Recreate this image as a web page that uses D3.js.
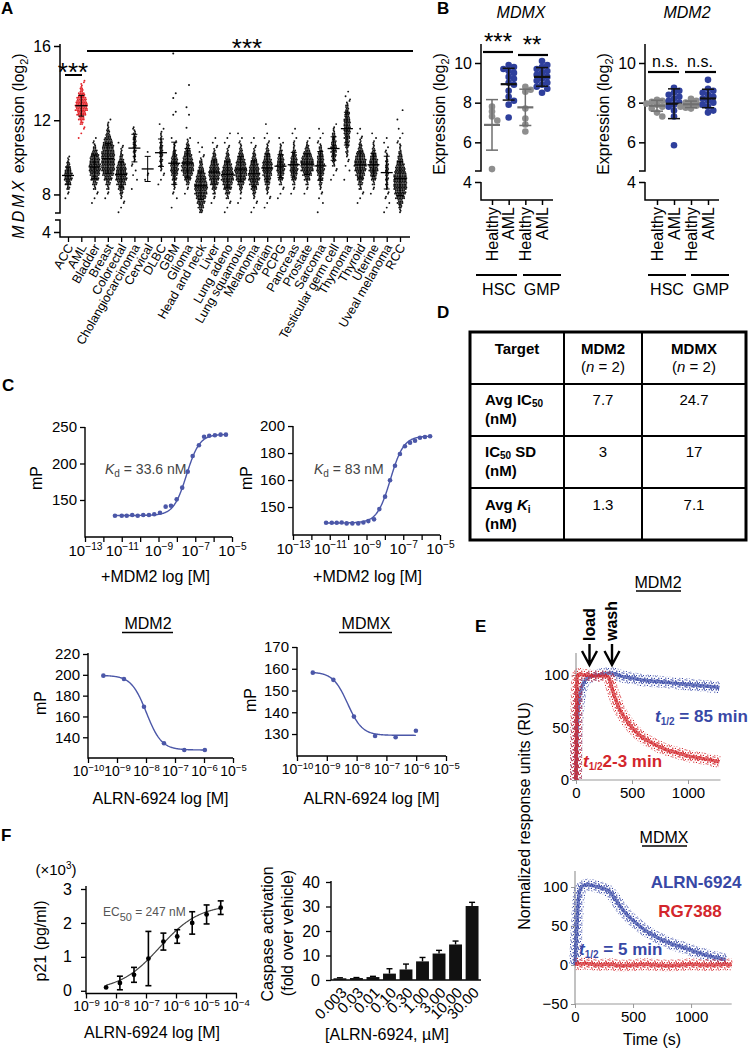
<!DOCTYPE html>
<html><head><meta charset="utf-8">
<script src="https://cdn.jsdelivr.net/npm/d3@7"></script>
<style>body{margin:0;background:#fff}svg{display:block}</style>
</head><body><script>
// ================= DATA =================
// Panel A: MDMX expression per tumour type (dot density per 0.25 log2 bin)
const catsA = ["ACC","AML","Bladder","Breast","Colorectal","Cholangiocarcinoma","Cervical","DLBC","GBM","Glioma","Head and neck","Liver","Lung adeno","Lung squamous","Melanoma","Ovarian","PCPG","Pancreas","Prostate","Sarcoma","Testicular germ cell","Thymoma","Thyroid","Uterine","Uveal melanoma","RCC"];
const binStartA = [7.75,11.0,7.5,7.75,7.0,8.25,8.75,8.5,7.25,8.0,7.0,7.5,7.0,7.5,7.0,7.25,7.75,8.0,8.0,7.0,8.75,8.75,7.5,8.0,7.0,7.0];
const binCountsA = [
 [1,2,5,10,14,14,10,6,3,1],
 [1,1,2,5,10,16,22,22,18,12,6,3,2],
 [1,1,2,4,8,14,18,20,20,18,14,8,4,2,1],
 [1,2,4,8,14,20,24,24,24,24,22,20,16,10,6,3,2,1],
 [1,1,2,3,6,10,16,20,20,18,14,8,5,3,2,1],
 [1,0,1,1,1,2,3,4,5,6,6,5,4,2],
 [1,2,0,0,0,0,1],
 [1,1,2,3,4,5,6,6,5,4,3,2,1,1],
 [1,0,1,2,3,5,8,12,14,14,12,8,5,3,2,1],
 [1,2,6,12,18,22,22,18,14,10,6,3,1],
 [6,10,14,18,22,24,22,18,14,10,6,4,2,1,1,1],
 [1,2,4,8,14,18,20,18,14,10,6,3,2,1,1],
 [1,1,2,4,8,14,18,22,22,18,14,10,6,3,2,1,1,1],
 [1,1,3,6,12,18,22,22,18,14,10,6,3,2,1,1],
 [1,1,2,3,6,10,16,20,20,18,14,10,6,3,2,1,1],
 [1,1,2,3,5,8,12,16,18,18,14,10,6,3,2,1,1,0,1],
 [1,1,2,4,8,12,14,14,12,8,5,3,1,1],
 [1,2,4,8,12,14,14,12,8,5,3,2,1,1,1],
 [1,2,4,10,16,22,24,22,16,10,5,2,1],
 [1,0,1,1,2,3,5,8,12,14,14,12,10,7,4,2,1,1,1],
 [1,1,2,4,6,8,10,10,8,6,4,2,1],
 [1,0,1,1,2,3,4,6,8,10,12,12,12,10,8,6,4,2,1,1],
 [1,1,2,4,8,12,16,20,22,20,16,10,6,3,2,1,1],
 [1,2,4,8,12,16,16,14,10,6,3,2,1,1],
 [1,1,1,2,2,3,4,5,6,6,5,4,3,2,1,1,1],
 [3,6,10,16,20,24,24,24,22,18,14,10,7,4,3,2,1,1,1,0,1,0,1]
];
const extrasA = [[],[],[],[],[],[],[],[],[12.3,12.45,13.2,13.45,15.6],[11.6,12.3,12.7,13.9],[],[],[],[],[],[],[],[],[],[],[],[],[],[],[],[]];
const ticksA = [4,8,12,16];

// Panel B
const groupsB = ["HSC Healthy","HSC AML","GMP Healthy","GMP AML"];
const groupLabelsB = ["Healthy","AML","Healthy","AML"];
const mdmxB = [[7.8,7.55,7.3,7.1,4.65],[9.9,9.8,9.7,9.6,9.5,9.3,9.2,9.0,8.9,8.6,8.3,8.1,7.9,7.25],[8.8,8.65,8.55,7.7,7.2,6.9,6.55],[10.1,9.9,9.8,9.7,9.6,9.5,9.4,9.3,9.2,9.1,9.0,8.9,8.8,8.7,8.5]];
const mdm2B = [[8.15,8.1,8.05,8.0,7.95,7.9,7.8,7.7,7.5,7.3],[8.75,8.6,8.5,8.4,8.3,8.2,8.1,8.0,7.9,7.8,7.6,7.3,5.85],[8.2,8.1,8.0,7.95,7.9,7.85,7.8,7.75,7.7],[9.15,8.7,8.6,8.5,8.4,8.3,8.2,8.1,8.0,7.9,7.8,7.6,7.5]];
const ticksB = [4,6,8,10];
const sigMdmxB = ["***","**"];
const sigMdm2B = ["n.s.","n.s."];

// Panel C
const kdMdm2LogX = [-11.37,-11.0,-10.73,-10.43,-10.13,-9.83,-9.52,-9.23,-8.92,-8.61,-8.32,-8.01,-7.71,-7.41,-7.14,-6.8,-6.52,-6.24,-5.93,-5.62,-5.33];
const kdMdm2MP = [128.5,128.5,128.5,129.5,128.5,129.5,129.5,130.4,132.6,140.9,142.2,150.9,166.9,188.8,210.3,225,236.7,238,238.6,239.5,239.5];
const kdMdm2Fit = [128.8,240,-7.474,1.23];
const kdMdmxLogX = [-11.2,-10.89,-10.62,-10.35,-10.08,-9.77,-9.45,-9.17,-8.9,-8.59,-8.3,-7.99,-7.72,-7.45,-7.18,-6.91,-6.63,-6.36,-6.09,-5.82,-5.54];
const kdMdmxMP = [128.4,128.4,128.4,128.6,127.9,127.9,127.9,128.6,129.6,130.9,138.5,147.7,159.8,170.6,179.3,185,187.7,189.1,191.3,191.9,192.4];
const kdMdmxFit = [128.2,192.6,-7.7,1.2];
const kdMdmxTicks = [140,160,180,200];
const kdMdmxTickLabels = ["150","160","180","200"];
const compMdm2LogX = [-9.47,-8.76,-8.07,-7.38,-6.68,-5.97];
const compMdm2MP = [199.2,196,169.4,134.2,127.8,127.8];
const compMdm2Fit = [127.8,199.5,-7.986,1.665];
const compMdmxLogX = [-9.47,-8.78,-8.09,-7.38,-6.69,-6.01];
const compMdmxMP = [158.2,154.9,138,129.1,128.5,131.5];
const compMdmxFit = [129.4,158.5,-8.3,1.77];

// Panel D
const tableHeads = ["Target","MDM2","MDMX"];
const tableRowLabels = ["Avg IC50","IC50 SD","Avg Ki"];
const tableMdm2 = ["7.7","3","1.3"];
const tableMdmx = ["24.7","17","7.1"];

// Panel E
const eMdm2AlrnT = [0,5,15,30,50,75,100,150,200,250,300,350,400,500,600,700,800,900,1000,1100,1200,1280];
const eMdm2AlrnV = [0,30,60,78,88,94,97,99,100,101,102,101,99,97,95,94,93,92,91,90,89,88];
const eMdm2RgT = [0,4,8,15,30,60,100,150,200,250,290,310,330,360,400,450,500,600,700,800,900,1000,1100,1200,1280];
const eMdm2RgV = [0,50,92,100,101,100,100,99,99,99,98,92,84,75,65,57,50,40,34,29,26,23,21,19,17];
const eMdmxAlrnT = [0,10,20,30,45,60,100,150,200,250,290,320,350,400,450,500,600,700,800,900,1000,1100,1200,1300];
const eMdmxAlrnV = [0,30,60,85,97,101,103,102,100,98,95,90,84,73,64,57,45,36,29,24,19,14,10,7];
const eMdmxRgT = [0,100,200,300,400,500,600,700,800,900,1000,1100,1200,1300,1350];
const eMdmxRgV = [1,2,0,1,-1,0,1,0,-1,0,1,0,0,1,0];

// Panel F
const p21LogX = [-8.33,-7.87,-7.4,-6.92,-6.42,-5.96,-5.46,-4.98,-4.51];
const p21Val = [0.1,0.23,0.47,0.95,1.45,1.6,2.0,2.25,2.45];
const p21Err = [0,0.2,0.22,0.8,0.25,0.2,0.33,0.28,0.2];
const p21Fit = [0,2.55,-6.55,0.65];
const caspLabels = ["0.003","0.03","0.01","0.10","0.30","1.00","3.00","10.00","30.00"];
const caspVal = [0.7,0.8,1.2,2.6,4.3,7.6,10.8,14.5,30.2];
const caspErr = [0.2,0.2,0.3,2.0,2.2,1.6,1.3,1.4,1.5];

// ================= DRAWING =================
const FONT = '"Liberation Sans", Arial, sans-serif';
const RED = "#e2262c", BLUE = "#2e3f9c", GREY = "#8e8e8e", CBLUE = "#4b57a8";
const EBLUE = "#3848a6", ERED = "#d3262c";
const fmtD = d3.format("d");
const svg = d3.select("body").append("svg").attr("width",754).attr("height",1050).attr("font-family",FONT);
svg.append("rect").attr("width",754).attr("height",1050).attr("fill","#fff");
const defs = svg.append("defs");

function T(g,x,y,s,o={}){const t=g.append("text").attr("x",x).attr("y",y).text(s);for(const k in o)t.attr(k,o[k]);return t;}
function L(g,x1,y1,x2,y2,c="#000",w=1.5){return g.append("line").attr("x1",x1).attr("y1",y1).attr("x2",x2).attr("y2",y2).attr("stroke",c).attr("stroke-width",w);}
function P(g,d,c="#000",w=1.5){return g.append("path").attr("d",d).attr("fill","none").attr("stroke",c).attr("stroke-width",w);}

// panel letters
[["A",1,14],["B",437,14],["C",2,391],["D",437,318],["E",475,632],["F",1,841]].forEach(([l,x,y])=>T(svg,x,y,l,{"font-size":17,"font-weight":"bold"}));

// ---------- Panel A ----------
(function(){
  const g = svg.append("g");
  const y = d3.scaleLinear().domain([4,4.9,7.0,16]).range([232,220,213,46]);
  const x = d3.scalePoint().domain(catsA).range([68,400]);
  const ay = g.append("g").attr("transform","translate(60,0)").call(d3.axisLeft(y).tickValues(ticksA).tickSize(6).tickFormat(fmtD));
  ay.select(".domain").remove();
  ay.selectAll("line").attr("stroke-width",1.5);
  ay.selectAll("text").attr("font-size",16).attr("font-family",FONT);
  P(g,"M60,44V213H55M55,220H60V237H410");
  const ax = g.append("g").attr("transform","translate(0,237)").call(d3.axisBottom(x).tickSize(5));
  ax.select(".domain").remove(); ax.selectAll("text").remove();
  ax.selectAll("line").attr("stroke-width",1.3);
  catsA.forEach(c=>T(g,0,0,c,{"font-size":12.5,"text-anchor":"end",dy:"0.35em",transform:`translate(${x(c)+2},245) rotate(-60)`}));
  const yl = T(g,0,0,"",{"font-size":16,"text-anchor":"middle",transform:"translate(24,146) rotate(-90)"});
  yl.append("tspan").attr("font-style","italic").attr("letter-spacing",3).text("MDMX");
  yl.append("tspan").text(" expression (log");
  yl.append("tspan").attr("font-size",11).attr("dy",4).text("2");
  yl.append("tspan").attr("dy",-4).text(")");
  catsA.forEach((c,i)=>{
    const cx = x(c), col = c==="AML"?RED:"#111";
    const vals = [];
    binCountsA[i].forEach((n,j)=>{
      const lo = binStartA[i]+0.25*j;
      const yb = y(lo), yt = y(lo+0.25);
      const rows = 3;
      const jit = n<=2 ? ((j*7)%5-2)*1.3 : 0;
      for(let k=0;k<n;k++){
        const r = k%rows, ci = Math.floor(k/rows);
        const nIn = Math.floor(n/rows)+(r<n%rows?1:0);
        const dx = (ci-(nIn-1)/2)*1.65 + (r===1?0.6:0) + jit;
        const dy = yb+(r+0.5)*(yt-yb)/rows;
        g.append("circle").attr("cx",cx+dx).attr("cy",dy).attr("r",0.95).attr("fill",col);
        vals.push(lo+0.125);
      }
    });
    extrasA[i].forEach((v,k)=>{g.append("circle").attr("cx",cx+(k%2?1.5:-1)).attr("cy",y(v)).attr("r",1).attr("fill",col);vals.push(v);});
    const m = d3.mean(vals), sd = d3.deviation(vals)||0;
    L(g,cx,y(m-sd),cx,y(m+sd),"#000",1);
    L(g,cx-3,y(m-sd),cx+3,y(m-sd),"#000",1);
    L(g,cx-3,y(m+sd),cx+3,y(m+sd),"#000",1);
    L(g,cx-6,y(m),cx+6,y(m),"#000",1.3);
  });
  T(g,73,81,"***",{"font-size":26,"text-anchor":"middle"});
  L(g,65,75,82,75,"#000",2);
  T(g,247,57,"***",{"font-size":26,"text-anchor":"middle"});
  L(g,87,51,413,51,"#000",2);
})();

// ---------- Panel B ----------
function swarm(vals, yS, cx, r){
  const placed=[], out=[];
  const order = vals.map((v,i)=>i).sort((a,b)=>vals[b]-vals[a]);
  for(const i of order){
    const py = yS(vals[i]); let px = cx;
    for(let k=0;k<25;k++){
      const off = k===0?0:(k%2?1:-1)*Math.ceil(k/2)*r*0.8;
      px = cx+off;
      if(placed.every(p=>Math.hypot(p[0]-px,p[1]-py)>=r*1.5)) break;
    }
    placed.push([px,py]); out.push({x:px,y:py});
  }
  return out;
}
function drawB(axisX, xRange, data, title, titleX, sigs, sigCfg, grp){
  const g = svg.append("g");
  const y = d3.scaleLinear().domain([4,10]).range([182,63]);
  const x = d3.scalePoint().domain(groupsB).range(xRange);
  const ay = g.append("g").attr("transform",`translate(${axisX},0)`).call(d3.axisLeft(y).tickValues(ticksB).tickSize(6).tickFormat(fmtD));
  ay.select(".domain").remove();
  ay.selectAll("line").attr("stroke-width",1.5);
  ay.selectAll("text").attr("font-size",16).attr("font-family",FONT);
  P(g,`M${axisX},44V171H${axisX-6}M${axisX},182V200H${xRange[1]+11}`);
  const ax = g.append("g").attr("transform","translate(0,200)").call(d3.axisBottom(x).tickSize(5));
  ax.select(".domain").remove(); ax.selectAll("text").remove(); ax.selectAll("line").attr("stroke-width",1.5);
  groupsB.forEach((gr,i)=>T(g,0,0,groupLabelsB[i],{"font-size":16,"text-anchor":"end",dy:"0.35em",transform:`translate(${x(gr)},207) rotate(-90)`}));
  T(g,titleX,18,title,{"font-size":16,"font-style":"italic","text-anchor":"middle"});
  const yl = T(g,0,0,"Expression (log",{"font-size":16,"text-anchor":"middle",transform:`translate(${axisX-36},114) rotate(-90)`});
  yl.append("tspan").attr("font-size",11).attr("dy",4).text("2");
  yl.append("tspan").attr("dy",-4).text(")");
  data.forEach((vals,i)=>{
    const healthy = i%2===0, col = healthy?GREY:BLUE, cx = x(groupsB[i]);
    swarm(vals,y,cx,3.3).forEach(p=>g.append("circle").attr("cx",p.x).attr("cy",p.y).attr("r",3.3).attr("fill",col));
    const m = d3.mean(vals), sd = d3.deviation(vals);
    const bc = healthy?"#6f6f6f":"#111";
    L(g,cx,y(m-sd),cx,y(m+sd),bc,1.5);
    L(g,cx-6,y(m-sd),cx+6,y(m-sd),bc,1.5);
    L(g,cx-6,y(m+sd),cx+6,y(m+sd),bc,1.5);
    L(g,cx-8,y(m),cx+8,y(m),bc,2.2);
  });
  sigCfg.forEach((s,i)=>{
    T(g,s.tx,s.ty,sigs[i],{"font-size":s.fs,"text-anchor":"middle"});
    L(g,s.x1,s.ly,s.x2,s.ly,"#000",2.2);
  });
  grp.forEach(gq=>{L(g,gq[0],275,gq[1],275,"#000",2);T(g,gq[2],295,gq[3],{"font-size":16,"text-anchor":"middle"});});
}
drawB(481,[492,542],mdmxB,"MDMX",521,sigMdmxB,
  [{tx:498,ty:50,fs:24,x1:483,x2:513,ly:52},{tx:532,ty:53,fs:24,x1:518,x2:548,ly:55}],
  [[476,517,499,"HSC"],[523,561,542,"GMP"]]);
drawB(645,[657,708],mdm2B,"MDM2",687,sigMdm2B,
  [{tx:665,ty:67,fs:16,x1:648,x2:679,ly:72},{tx:700,ty:67,fs:16,x1:685,x2:716,ly:72}],
  [[648,686,667,"HSC"],[691,729,711,"GMP"]]);

// ---------- Panel C ----------
function fourPL(p, xv, dec){const [b,t,m,h]=p;return b+(t-b)/(1+Math.pow(10,(dec?(xv-m):(m-xv))*h));}
function doseChart(c){
  const g = svg.append("g");
  const x = d3.scaleLinear().domain(c.xDom).range(c.xRange);
  const y = d3.scaleLinear().domain(c.yDom).range(c.yRange);
  const [x0,x1] = c.xRange, yb = c.yRange[0];
  const ay = g.append("g").attr("transform",`translate(${x0},0)`).call(d3.axisLeft(y).tickValues(c.yTicks).tickSize(5).tickFormat((d,i)=>c.yLabels[i]));
  ay.select(".domain").remove(); ay.selectAll("line").attr("stroke-width",1.3);
  ay.selectAll("text").attr("font-size",15).attr("font-family",FONT);
  const ax = g.append("g").attr("transform",`translate(0,${yb})`).call(d3.axisBottom(x).tickValues(d3.range(c.xDom[0],c.xDom[1]+1)).tickSize(5));
  ax.select(".domain").remove(); ax.selectAll("line").attr("stroke-width",1.3);
  ax.selectAll("text").each(function(d){
    const t = d3.select(this); t.text(null).attr("font-size",c.tfs).attr("font-family",FONT);
    if((d-c.xDom[0])%c.every!==0) return;
    t.append("tspan").text("10");
    t.append("tspan").attr("font-size",c.tfs*0.68).attr("dy","-0.55em").text("−"+Math.abs(d));
  });
  P(g,`M${x0},${c.yTop}V${yb}H${x1}`,"#000",1.4);
  const xs = d3.range(c.logX[0],c.logX[c.logX.length-1]+0.001,0.02);
  g.append("path").datum(xs).attr("d",d3.line().x(d=>x(d)).y(d=>y(fourPL(c.fit,d,c.dec)))).attr("fill","none").attr("stroke",CBLUE).attr("stroke-width",1.4);
  c.logX.forEach((lx,i)=>g.append("circle").attr("cx",x(lx)).attr("cy",y(c.mp[i])).attr("r",2.3).attr("fill",CBLUE));
  T(g,c.ylx,c.yly,"mP",{"font-size":16,"text-anchor":"middle",transform:`rotate(-90,${c.ylx},${c.yly})`,dy:"0.35em"});
  T(g,(x0+x1)/2+c.xlOff,c.xly,c.xLabel,{"font-size":16,"text-anchor":"middle"});
  if(c.kd){
    const t = T(g,c.kd[0],c.kd[1],"",{"font-size":14,fill:"#444"});
    t.append("tspan").attr("font-style","italic").text("K");
    t.append("tspan").attr("font-size",10).attr("dy",3).text("d");
    t.append("tspan").attr("dy",-3).text(" = "+c.kd[2]);
  }
}
doseChart({xDom:[-13,-5],xRange:[85,232],yDom:[99.3,250],yRange:[537,427],yTop:427,yTicks:[150,200,250],yLabels:["150","200","250"],
  tfs:15,every:2,logX:kdMdm2LogX,mp:kdMdm2MP,fit:kdMdm2Fit,dec:false,ylx:36,yly:478,xLabel:"+MDM2 log [M]",xly:582,xlOff:-3,kd:[105,474,"33.6 nM"]});
doseChart({xDom:[-13,-5],xRange:[293,440],yDom:[119.3,205],yRange:[535,419.3],yTop:426,yTicks:kdMdmxTicks,yLabels:kdMdmxTickLabels,
  tfs:15,every:2,logX:kdMdmxLogX,mp:kdMdmxMP,fit:kdMdmxFit,dec:false,ylx:246,yly:478,xLabel:"+MDM2 log [M]",xly:582,xlOff:1,kd:[314,474,"83 nM"]});
doseChart({xDom:[-10,-5],xRange:[88,233],yDom:[120.1,220],yRange:[758,654],yTop:653,yTicks:[140,160,180,200,220],yLabels:["140","160","180","200","220"],
  tfs:14,every:1,logX:compMdm2LogX,mp:compMdm2MP,fit:compMdm2Fit,dec:true,ylx:40,yly:703,xLabel:"ALRN-6924 log [M]",xly:804,xlOff:0});
doseChart({xDom:[-10,-5],xRange:[297,446],yDom:[119.9,170],yRange:[756,647],yTop:647,yTicks:[130,140,150,160,170],yLabels:["130","140","150","160","170"],
  tfs:14,every:1,logX:compMdmxLogX,mp:compMdmxMP,fit:compMdmxFit,dec:true,ylx:250,yly:700,xLabel:"ALRN-6924 log [M]",xly:804,xlOff:0});
[["MDM2",148,122,173],["MDMX",366,339,392]].forEach(([s,cx,a,b])=>{T(svg,cx,629,s,{"font-size":16,"text-anchor":"middle"});L(svg,a,632.5,b,632.5,"#000",1.6);});

// ---------- Panel D ----------
(function(){
  const g = svg.append("g");
  g.append("rect").attr("x",470).attr("y",332).attr("width",276).attr("height",208).attr("fill","none").attr("stroke","#000").attr("stroke-width",3);
  [564,642].forEach(xx=>L(g,xx,332,xx,540,"#000",2));
  [384,436,488].forEach(yy=>L(g,470,yy,746,yy,"#000",2));
  const cx = [517,603,694];
  T(g,cx[0],354,tableHeads[0],{"font-size":15,"font-weight":"bold","text-anchor":"middle"});
  [1,2].forEach(i=>{
    T(g,cx[i],354,tableHeads[i],{"font-size":15,"font-weight":"bold","text-anchor":"middle"});
    const t = T(g,cx[i],372,"(",{"font-size":15,"text-anchor":"middle"});
    t.append("tspan").attr("font-style","italic").text("n");
    t.append("tspan").text(" = 2)");
  });
  const base = [405,457,510];
  tableRowLabels.forEach((lab,i)=>{
    const t = T(g,485,base[i],"",{"font-size":15,"font-weight":"bold"});
    if(lab==="Avg IC50"){t.append("tspan").text("Avg IC");t.append("tspan").attr("font-size",10).attr("dy",2).text("50");}
    else if(lab==="IC50 SD"){t.append("tspan").text("IC");t.append("tspan").attr("font-size",10).attr("dy",2).text("50");t.append("tspan").attr("dy",-2).text(" SD");}
    else {t.append("tspan").text("Avg ");t.append("tspan").attr("font-style","italic").text("K");t.append("tspan").attr("font-size",10).attr("dy",3).text("i");}
    T(g,485,base[i]+19,"(nM)",{"font-size":15,"font-weight":"bold"});
    T(g,cx[1],base[i],tableMdm2[i],{"font-size":15,"text-anchor":"middle"});
    T(g,cx[2],base[i],tableMdmx[i],{"font-size":15,"text-anchor":"middle"});
  });
})();

// ---------- Panel E ----------
function speckle(id,color){
  const p = defs.append("pattern").attr("id",id).attr("width",7).attr("height",7).attr("patternUnits","userSpaceOnUse");
  [[0.3,0.6],[3.1,1.4],[5.6,0.2],[1.7,3.3],[4.5,4.0],[0.2,5.6],[2.9,5.9],[6.0,3.0],[3.8,2.6]].forEach(([a,b])=>p.append("rect").attr("x",a).attr("y",b).attr("width",1.1).attr("height",1.1).attr("fill",color));
}
speckle("spB",EBLUE); speckle("spR",ERED);
function band(g,x,y,ts,vs,color,pid){
  const line = d3.line().x((d,i)=>x(ts[i])).y(d=>y(d)).curve(d3.curveMonotoneX);
  g.append("path").datum(vs).attr("d",line).attr("fill","none").attr("stroke",`url(#${pid})`).attr("stroke-width",12).attr("stroke-linejoin","round");
  g.append("path").datum(vs).attr("d",line).attr("fill","none").attr("stroke",color).attr("stroke-width",3.5).attr("stroke-opacity",0.7).attr("stroke-linejoin","round");
  g.append("path").datum(vs).attr("d",line).attr("fill","none").attr("stroke",`url(#${pid})`).attr("stroke-width",7);
}
function eAxes(g,x,y,yTicks,xTicks,x0,x1,yTop,yBot){
  const ay = g.append("g").attr("transform",`translate(${x0},0)`).call(d3.axisLeft(y).tickValues(yTicks).tickSize(4).tickFormat(d=>d<0?"−"+(-d):String(d)));
  ay.select(".domain").remove(); ay.selectAll("line").attr("stroke","#999");
  ay.selectAll("text").attr("font-size",15).attr("font-family",FONT);
  const ax = g.append("g").attr("transform",`translate(0,${yBot})`).call(d3.axisBottom(x).tickValues(xTicks).tickSize(4).tickFormat(fmtD));
  ax.select(".domain").remove(); ax.selectAll("line").attr("stroke","#999");
  ax.selectAll("text").attr("font-size",15).attr("font-family",FONT);
  P(g,`M${x0},${yTop}V${yBot}H${x1}`,"#9a9a9a",1.2);
}
function tHalf(g,x,y,rest,color){
  const t = T(g,x,y,"",{"font-size":17,"font-weight":"bold",fill:color});
  t.append("tspan").attr("font-style","italic").text("t");
  t.append("tspan").attr("font-size",10).attr("dy",3).text("1/2");
  t.append("tspan").attr("dy",-3).text(rest);
}
(function(){
  const g = svg.append("g");
  const x1 = d3.scaleLinear().domain([0,1290]).range([576,720.5]);
  const y1 = d3.scaleLinear().domain([0,120]).range([780,654]);
  eAxes(g,x1,y1,[0,50,100],[0,500,1000],576,720.5,653,780);
  band(g,x1,y1,eMdm2AlrnT,eMdm2AlrnV,EBLUE,"spB");
  band(g,x1,y1,eMdm2RgT,eMdm2RgV,ERED,"spR");
  T(g,658,588,"MDM2",{"font-size":16,"text-anchor":"middle"}); L(g,636,591,681,591,"#000",1.6);
  [["load",595],["wash",617]].forEach(([s,xx])=>T(g,0,0,s,{"font-size":16,"font-weight":"bold",transform:`translate(${xx},641) rotate(-90)`}));
  [589.5,612].forEach(xx=>P(g,`M${xx},644V665M${xx-7.5},651L${xx},665L${xx+7.5},651`,"#000",2.4));
  tHalf(g,655,722," = 85 min",EBLUE);
  tHalf(g,583,767,"2-3 min",ERED);

  const x2 = d3.scaleLinear().domain([0,1350]).range([575,731.7]);
  const y2 = d3.scaleLinear().domain([-50,120]).range([1004,871.4]);
  eAxes(g,x2,y2,[-50,0,50,100],[0,500,1000],575,731.7,871,1004);
  band(g,x2,y2,eMdmxAlrnT,eMdmxAlrnV,EBLUE,"spB");
  band(g,x2,y2,eMdmxRgT,eMdmxRgV,ERED,"spR");
  T(g,664,843,"MDMX",{"font-size":16,"text-anchor":"middle"}); L(g,642,846,687,846,"#000",1.6);
  T(g,696,888,"ALRN-6924",{"font-size":17,"font-weight":"bold","text-anchor":"middle",fill:EBLUE});
  T(g,690,917,"RG7388",{"font-size":17,"font-weight":"bold","text-anchor":"middle",fill:ERED});
  tHalf(g,579,955," = 5 min",EBLUE);
  T(g,652,1045,"Time (s)",{"font-size":16,"text-anchor":"middle"});
  T(g,0,0,"Normalized response units (RU)",{"font-size":16,"text-anchor":"middle",transform:"translate(530,816) rotate(-90)"});
})();

// ---------- Panel F ----------
(function(){
  const g = svg.append("g");
  const x = d3.scaleLinear().domain([-9,-4]).range([86,236]);
  const y = d3.scaleLinear().domain([-0.08,3]).range([993.5,889]);
  const ay = g.append("g").attr("transform","translate(86,0)").call(d3.axisLeft(y).tickValues([0,1,2,3]).tickSize(5).tickFormat(fmtD));
  ay.select(".domain").remove(); ay.selectAll("line").attr("stroke-width",1.3);
  ay.selectAll("text").attr("font-size",16).attr("font-family",FONT).attr("x",-14);
  const ax = g.append("g").attr("transform","translate(0,993.5)").call(d3.axisBottom(x).tickValues(d3.range(-9,-3)).tickSize(5));
  ax.select(".domain").remove(); ax.selectAll("line").attr("stroke-width",1.3);
  ax.selectAll("text").each(function(d){const t=d3.select(this);t.text(null).attr("font-size",14).attr("font-family",FONT);
    t.append("tspan").text("10");t.append("tspan").attr("font-size",9.5).attr("dy","-0.55em").text("−"+Math.abs(d));});
  P(g,"M86,886V993.5H237",'#000',1.4);
  const xs = d3.range(p21LogX[0],p21LogX[p21LogX.length-1]+0.001,0.02);
  g.append("path").datum(xs).attr("d",d3.line().x(d=>x(d)).y(d=>y(fourPL(p21Fit,d,false)))).attr("fill","none").attr("stroke","#444").attr("stroke-width",1.2);
  p21LogX.forEach((lx,i)=>{
    const cx=x(lx), e=p21Err[i];
    if(e>0){L(g,cx,y(p21Val[i]-e),cx,y(p21Val[i]+e),"#000",1.6);L(g,cx-3,y(p21Val[i]-e),cx+3,y(p21Val[i]-e),"#000",1.6);L(g,cx-3,y(p21Val[i]+e),cx+3,y(p21Val[i]+e),"#000",1.6);}
    g.append("circle").attr("cx",cx).attr("cy",y(p21Val[i])).attr("r",2.4).attr("fill","#000");
  });
  const ec = T(g,103,916,"EC",{"font-size":12,fill:"#555"});
  ec.append("tspan").attr("font-size",11).attr("dy",5).text("50");
  ec.append("tspan").attr("dy",-5).text(" = 247 nM");
  const xt = T(g,56,875,"(×10",{"font-size":15,"text-anchor":"middle"});
  xt.append("tspan").attr("font-size",10).attr("dy",-6).text("3");
  xt.append("tspan").attr("dy",6).text(")");
  T(g,0,0,"p21 (pg/ml)",{"font-size":16,"text-anchor":"middle",transform:"translate(46,941) rotate(-90)"});
  T(g,152,1038,"ALRN-6924 log [M]",{"font-size":16,"text-anchor":"middle"});

  const xb = d3.scaleBand().domain(caspLabels).range([331,481]).paddingInner(0.22).paddingOuter(0.15);
  const yb = d3.scaleLinear().domain([0,40]).range([980,882]);
  const ay2 = g.append("g").attr("transform","translate(331,0)").call(d3.axisLeft(yb).tickValues([0,10,20,30,40]).tickSize(5).tickFormat(fmtD));
  ay2.select(".domain").remove(); ay2.selectAll("line").attr("stroke-width",1.3);
  ay2.selectAll("text").attr("font-size",16).attr("font-family",FONT).attr("x",-11);
  const ax2 = g.append("g").attr("transform","translate(0,980)").call(d3.axisBottom(xb).tickSize(0));
  ax2.select(".domain").remove(); ax2.selectAll("text").remove();
  P(g,"M331,881V980H481",'#000',1.4);
  caspLabels.forEach((lab,i)=>{
    const bx = xb(lab), bw = xb.bandwidth(), cx = bx+bw/2;
    const v = caspVal[i], e = caspErr[i];
    L(g,cx,yb(v),cx,yb(v+e),"#000",1.4); L(g,cx-3,yb(v+e),cx+3,yb(v+e),"#000",1.4);
    g.append("rect").attr("x",bx).attr("y",yb(v)).attr("width",bw).attr("height",980-yb(v)).attr("fill","#111");
    T(g,0,0,lab,{"font-size":15,"text-anchor":"end",dy:"0.35em",transform:`translate(${cx+4},990) rotate(-45)`});
  });
  T(g,0,0,"Caspase activation",{"font-size":16,"text-anchor":"middle",transform:"translate(273,934) rotate(-90)"});
  T(g,0,0,"(fold over vehicle)",{"font-size":16,"text-anchor":"middle",transform:"translate(293,933) rotate(-90)"});
  T(g,387,1040,"[ALRN-6924,  µM]",{"font-size":16,"text-anchor":"middle"});
})();
</script></body></html>
